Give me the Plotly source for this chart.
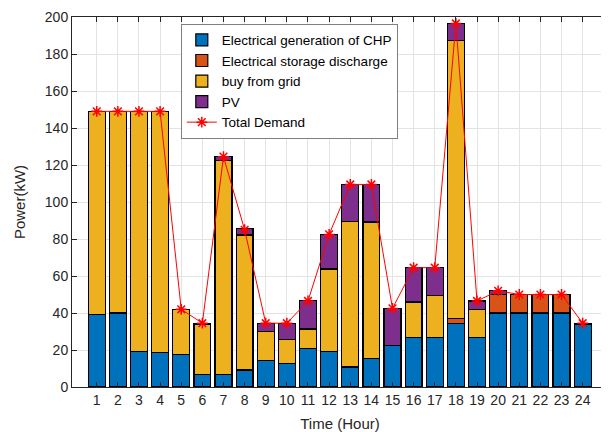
import plotly.graph_objects as go

hours = list(range(1, 25))
chp = [39, 40, 19.3, 18.6, 17.5, 6.7, 6.7, 9.2, 14.3, 12.5, 21, 19.3, 10.8, 15.2, 22.6, 26.7, 26.7, 34.5, 26.9, 40, 40, 40, 40, 34]
storage = [0, 0, 0, 0, 0, 0, 0, 0, 0, 0, 0, 0, 0, 0, 0, 0, 0, 2.7, 0, 10.2, 10, 10, 10, 0]
grid = [110, 109, 129.7, 130.4, 24.2, 27, 115.8, 73, 15.5, 13, 10.4, 44.5, 78.8, 74, 0, 19.2, 22.8, 150.3, 14.8, 0, 0, 0, 0, 0]
pv = [0, 0, 0, 0, 0, 0.8, 2.2, 3.3, 4.7, 9, 15.2, 18.6, 19.9, 20.3, 19.9, 18.8, 15.2, 9.2, 4.8, 2, 0, 0, 0, 0.5]
demand = [149, 149, 149, 149, 42, 34.5, 124.5, 85, 34.5, 34.5, 46.5, 82.5, 109.5, 109.5, 42.5, 64.5, 64.5, 196.5, 46.5, 52, 50, 50, 50, 34.5]

names = ["Electrical generation of CHP", "Electrical storage discharge", "buy from grid", "PV"]
colors = ["#0072BD", "#D95319", "#EDB120", "#7E2F8E"]

fig = go.Figure()
for name, vals, col in zip(names, [chp, storage, grid, pv], colors):
    fig.add_trace(go.Bar(x=hours, y=vals, name=name, marker=dict(color=col, line=dict(color="black", width=1.2)), width=0.8))

fig.add_trace(go.Scatter(x=hours, y=demand, name="Total Demand", mode="lines+markers",
                         line=dict(color="#FF0000", width=1),
                         marker=dict(symbol="asterisk-open", size=9, color="#FF0000", line=dict(color="#FF0000", width=1.5))))

# the page body has an 8px margin, so the figure is drawn 8px in from the top-left
fig.update_layout(
    width=601, height=424,
    barmode="stack", bargap=0.2,
    paper_bgcolor="white", plot_bgcolor="white",
    margin=dict(l=64, r=1, t=9, b=45, autoexpand=False),
    font=dict(family="Liberation Sans, Arial, sans-serif", size=14, color="#262626"),
    legend=dict(x=0.203, y=0.982, xanchor="left", yanchor="top", bgcolor="white",
                bordercolor="#7f7f7f", borderwidth=1, font=dict(size=13.5, color="black"),
                tracegroupgap=0, itemwidth=30, traceorder="normal"),
    showlegend=True,
)
fig.update_xaxes(range=[-0.17, 25.2], tickmode="array", tickvals=hours, ticktext=[str(h) for h in hours],
                 showgrid=True, gridcolor="#e3e3e3", gridwidth=1, automargin=False,
                 showline=True, linecolor="#262626", linewidth=1, mirror="ticks",
                 ticks="inside", ticklen=5, tickcolor="#262626", tickfont=dict(size=14),
                 title=dict(text="Time (Hour)", font=dict(size=15)), zeroline=False)
fig.update_yaxes(range=[0, 200], dtick=20,
                 showgrid=True, gridcolor="#e3e3e3", gridwidth=1, automargin=False,
                 showline=True, linecolor="#262626", linewidth=1, mirror="ticks",
                 ticks="inside", ticklen=5, tickcolor="#262626", tickfont=dict(size=14),
                 title=dict(text="Power(kW)", font=dict(size=15)), zeroline=False)

fig.write_html("out.html")
